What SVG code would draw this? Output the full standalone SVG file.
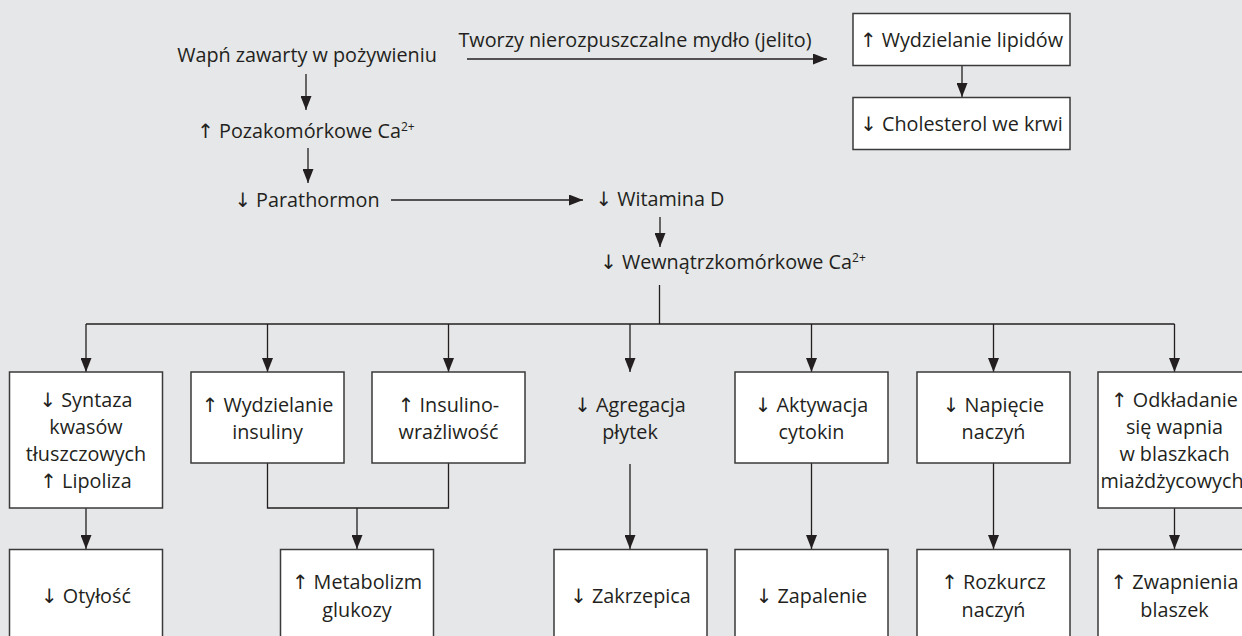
<svg xmlns="http://www.w3.org/2000/svg" width="1242" height="636" viewBox="0 0 1242 636">
<defs>
<marker id="ah" markerUnits="userSpaceOnUse" markerWidth="14" markerHeight="11" refX="14" refY="5.5" orient="auto">
<path d="M0,0 L14,5.5 L0,11 z" fill="#231f20"/>
</marker>
<style>
text{font-family:"Open Sans","Liberation Sans",sans-serif;font-size:19.8px;fill:#231f20;text-anchor:middle}
.a{font-family:"DejaVu Sans",sans-serif;font-weight:normal}
.box{fill:#ffffff;stroke:#3a3a3a;stroke-width:1.5}
.ln{fill:none;stroke:#231f20;stroke-width:1.3}
.ar{fill:none;stroke:#231f20;stroke-width:1.3;marker-end:url(#ah)}
.sup{font-size:12px}
</style>
</defs>
<rect width="1242" height="636" fill="#e6e7e8"/>
<g id="connectors">
<line class="ar" x1="306" y1="74" x2="306" y2="110"/>
<line class="ar" x1="308" y1="148" x2="308" y2="183"/>
<line class="ar" x1="391" y1="200" x2="583" y2="200"/>
<line class="ar" x1="467" y1="59" x2="827" y2="59"/>
<line class="ar" x1="962" y1="65" x2="962" y2="97"/>
<line class="ar" x1="660" y1="217" x2="660" y2="247"/>
<line class="ln" x1="659.5" y1="285" x2="659.5" y2="324"/>
<line class="ln" x1="86" y1="324" x2="1174.5" y2="324"/>
<line class="ar" x1="86" y1="324" x2="86" y2="372"/>
<line class="ar" x1="267.5" y1="324" x2="267.5" y2="372"/>
<line class="ar" x1="448.5" y1="324" x2="448.5" y2="372"/>
<line class="ar" x1="630" y1="324" x2="630" y2="372"/>
<line class="ar" x1="811.5" y1="324" x2="811.5" y2="372"/>
<line class="ar" x1="993.5" y1="324" x2="993.5" y2="372"/>
<line class="ar" x1="1174.5" y1="324" x2="1174.5" y2="372"/>
<line class="ar" x1="86" y1="508" x2="86" y2="549"/>
<path class="ln" d="M267.5,463 V508 H448.5 V463"/>
<line class="ar" x1="357" y1="508" x2="357" y2="549"/>
<line class="ar" x1="630" y1="464" x2="630" y2="549"/>
<line class="ar" x1="811.5" y1="463" x2="811.5" y2="549"/>
<line class="ar" x1="993.5" y1="463" x2="993.5" y2="549"/>
<line class="ar" x1="1174.5" y1="508" x2="1174.5" y2="549"/>
</g>
<g id="n-wapn"><text x="307" y="62">Wapń zawarty w pożywieniu</text></g>
<g id="n-poza"><text x="306" y="138"><tspan class="a">↑</tspan> Pozakomórkowe Ca<tspan class="sup" dy="-7">2+</tspan></text></g>
<g id="n-parat"><text x="307" y="207"><tspan class="a">↓</tspan> Parathormon</text></g>
<g id="n-tworzy"><text x="635" y="47">Tworzy nierozpuszczalne mydło (jelito)</text></g>
<g id="n-lipidy"><rect class="box" x="853" y="13.5" width="217" height="52"/><text x="961.5" y="47"><tspan class="a">↑</tspan> Wydzielanie lipidów</text></g>
<g id="n-chol"><rect class="box" x="853" y="97.5" width="217" height="52"/><text x="961.5" y="131"><tspan class="a">↓</tspan> Cholesterol we krwi</text></g>
<g id="n-witd"><text x="660" y="206"><tspan class="a">↓</tspan> Witamina D</text></g>
<g id="n-wewn"><text x="733" y="269"><tspan class="a">↓</tspan> Wewnątrzkomórkowe Ca<tspan class="sup" dy="-7">2+</tspan></text></g>
<g id="n-syntaza"><rect class="box" x="9.5" y="372" width="153" height="136"/>
<text x="86" y="407"><tspan class="a">↓</tspan> Syntaza</text><text x="86" y="434">kwasów</text><text x="86" y="461">tłuszczowych</text><text x="86" y="488"><tspan class="a">↑</tspan> Lipoliza</text></g>
<g id="n-wydz"><rect class="box" x="191" y="372" width="153" height="91"/>
<text x="267.5" y="412"><tspan class="a">↑</tspan> Wydzielanie</text><text x="267.5" y="439">insuliny</text></g>
<g id="n-insul"><rect class="box" x="372" y="372" width="153" height="91"/>
<text x="448.5" y="412"><tspan class="a">↑</tspan> Insulino-</text><text x="448.5" y="439">wrażliwość</text></g>
<g id="n-agreg"><text x="630" y="412"><tspan class="a">↓</tspan> Agregacja</text><text x="630" y="439">płytek</text></g>
<g id="n-cyto"><rect class="box" x="735" y="372" width="153" height="91"/>
<text x="811.5" y="412"><tspan class="a">↓</tspan> Aktywacja</text><text x="811.5" y="439">cytokin</text></g>
<g id="n-napi"><rect class="box" x="917" y="372" width="153" height="91"/>
<text x="993.5" y="412"><tspan class="a">↓</tspan> Napięcie</text><text x="993.5" y="439">naczyń</text></g>
<g id="n-odkl"><rect class="box" x="1098" y="372" width="153" height="136"/>
<text x="1174.5" y="407"><tspan class="a">↑</tspan> Odkładanie</text><text x="1174.5" y="434">się wapnia</text><text x="1174.5" y="461">w blaszkach</text><text x="1172" y="488">miażdżycowych</text></g>
<g id="n-otyl"><rect class="box" x="9.5" y="549.5" width="153" height="100"/><text x="86" y="603"><tspan class="a">↓</tspan> Otyłość</text></g>
<g id="n-metab"><rect class="box" x="280.5" y="549.5" width="153" height="100"/><text x="357" y="589"><tspan class="a">↑</tspan> Metabolizm</text><text x="357" y="617">glukozy</text></g>
<g id="n-zakrz"><rect class="box" x="554" y="549.5" width="153" height="100"/><text x="630.5" y="603"><tspan class="a">↓</tspan> Zakrzepica</text></g>
<g id="n-zapal"><rect class="box" x="735" y="549.5" width="153" height="100"/><text x="811.5" y="603"><tspan class="a">↓</tspan> Zapalenie</text></g>
<g id="n-rozk"><rect class="box" x="917" y="549.5" width="153" height="100"/><text x="993.5" y="589"><tspan class="a">↑</tspan> Rozkurcz</text><text x="993.5" y="617">naczyń</text></g>
<g id="n-zwap"><rect class="box" x="1098" y="549.5" width="153" height="100"/><text x="1174.5" y="589"><tspan class="a">↑</tspan> Zwapnienia</text><text x="1174.5" y="617">blaszek</text></g>
</svg>
